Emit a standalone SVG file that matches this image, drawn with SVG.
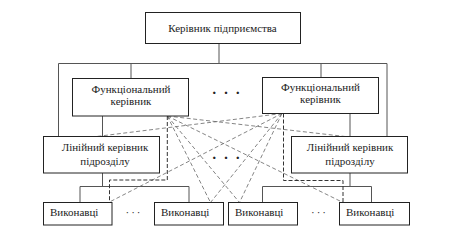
<svg xmlns="http://www.w3.org/2000/svg" width="463" height="234" viewBox="0 0 463 234">
<style>
.box{fill:#fff;stroke:#222;stroke-width:1}
.ln{fill:none;stroke:#555;stroke-width:1}
.dl{fill:none;stroke:#666;stroke-width:0.8;stroke-dasharray:4 2.5}
.de{fill:none;stroke:#333;stroke-width:1;stroke-dasharray:4 2}
text{font-family:"Liberation Serif","Times New Roman",serif;font-size:11px;fill:#222}
.c{text-anchor:middle}
.dots{font-size:15px;font-weight:bold;letter-spacing:1.5px}
.sd{letter-spacing:2px}
</style>
<rect width="463" height="234" fill="#fff"/>
<g id="connectors">
<path class="ln" d="M219 43.5V63.5M58.5 63.5H387M58.5 63.5V136.5M387 63.5V136.5M131 63.5V78.5M321 63.5V77.5M102.5 116V136.5M350 113.5V136.5M102.5 173V186.5M80 186.5H189M80 186.5V202.5M189 186.5V202.5M350 173V186.5M262.5 186.5H371.5M262.5 186.5V202.5M371.5 186.5V202.5"/>
<path class="dl" d="M167.3 116L345 136.5M167.3 116L210.5 202.5M167.3 116L239.5 202.5M167.3 116L343 202.5M282 113.5L96.5 136.5M282 113.5L109.5 202M282 113.5L210.5 202.5M282 113.5L239.5 202.5"/>
<path class="de" d="M167.3 116V180H109.5V202.5M283.5 113.5V180.5H343V202.5"/>
</g>
<g id="n-top"><rect class="box" x="145.5" y="12.5" width="155" height="31"/><text class="c" x="222.5" y="32" font-family="Liberation Serif, serif">Керівник підприємства</text></g>
<g id="n-func1"><rect class="box" x="72.5" y="78.5" width="116" height="37.5"/><text class="c" x="131" y="93">Функціональний</text><text class="c" x="131" y="105">керівник</text></g>
<g id="n-func2"><rect class="box" x="262.5" y="77.5" width="116" height="36"/><text class="c" x="320.5" y="91">Функціональний</text><text class="c" x="320.5" y="103">керівник</text></g>
<g id="n-dots1"><text class="c dots" x="226.8" y="98">· · ·</text></g>
<g id="n-lin1"><rect class="box" x="43.5" y="136.5" width="116" height="36.5"/><text class="c" x="105" y="151">Лінійний керівник</text><text class="c" x="105" y="165">підрозділу</text></g>
<g id="n-lin2"><rect class="box" x="291.5" y="136.5" width="116" height="36.5"/><text class="c" x="350" y="151">Лінійний керівник</text><text class="c" x="350" y="165">підрозділу</text></g>
<g id="n-dots2"><text class="c dots" x="226.8" y="163">· · ·</text></g>
<g id="n-v1"><rect class="box" x="43.5" y="202.5" width="68.5" height="22.5"/><text x="50" y="216">Виконавці</text></g>
<g id="n-v2"><rect class="box" x="154.5" y="202.5" width="69" height="22.5"/><text x="161" y="216">Виконавці</text></g>
<g id="n-v3"><rect class="box" x="228.5" y="202.5" width="69" height="22.5"/><text x="235" y="216">Виконавці</text></g>
<g id="n-v4"><rect class="box" x="339.5" y="202.5" width="70" height="22.5"/><text x="346" y="216">Виконавці</text></g>
<g id="n-dots3"><text class="c sd" x="134" y="216">···</text></g>
<g id="n-dots4"><text class="c sd" x="319.5" y="216">···</text></g>
</svg>
